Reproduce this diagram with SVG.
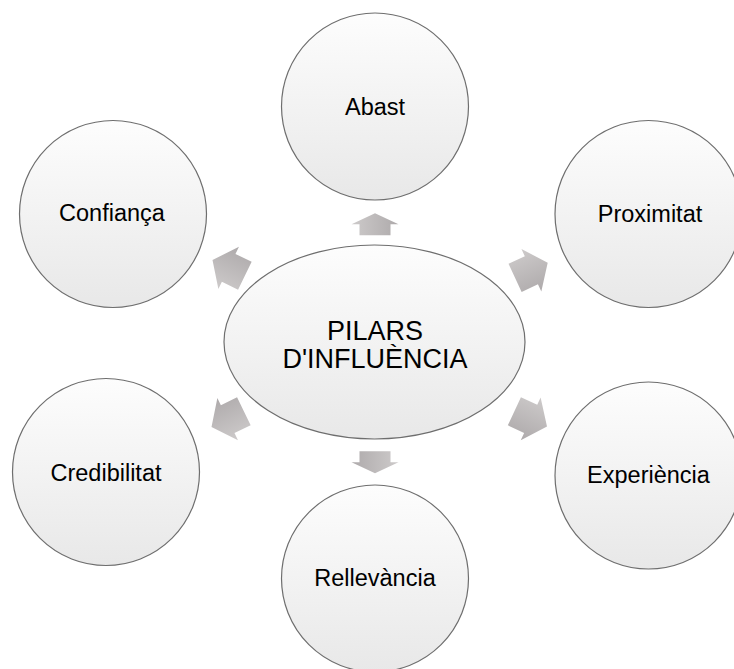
<svg xmlns="http://www.w3.org/2000/svg" width="734" height="669" viewBox="0 0 734 669">
<defs>
<linearGradient id="gNode" x1="0" y1="0" x2="0" y2="1">
<stop offset="0" stop-color="#fdfdfd"/>
<stop offset="1" stop-color="#e8e8e8"/>
</linearGradient>
<linearGradient id="gArrow" x1="0" y1="0" x2="0" y2="1">
<stop offset="0" stop-color="#cdcaca"/>
<stop offset="1" stop-color="#aeaaab"/>
</linearGradient>
<polygon id="arV" points="0,0 -11,-23.5 -11,-15.5 -22,-15.5 -22,15.5 -11,15.5 -11,23.5"/>
<polygon id="arD" points="0,0 -18,-23.5 -18,-15.5 -36,-15.5 -36,15.5 -18,15.5 -18,23.5"/>
</defs>
<style>
.node{fill:url(#gNode);stroke:#6e6e6e;stroke-width:1.2}
.lbl{font-family:"Liberation Sans",Arial,sans-serif;font-size:23.5px;fill:#000;text-anchor:middle}
.main{font-family:"Liberation Sans",Arial,sans-serif;font-size:27px;fill:#000;text-anchor:middle}
.arrow{fill:url(#gArrow);stroke:none}
</style>
<rect width="734" height="669" fill="#ffffff"/>
<g id="connectors">
<use href="#arV" class="arrow" transform="translate(375,213.3) rotate(-90)"/>
<use href="#arV" class="arrow" transform="translate(375,473.3) rotate(90)"/>
<use href="#arD" class="arrow" transform="translate(212.5,260) rotate(206)"/>
<use href="#arD" class="arrow" transform="translate(211.5,427) rotate(154)"/>
<use href="#arD" class="arrow" transform="translate(547.7,262.7) rotate(-25)"/>
<use href="#arD" class="arrow" transform="translate(547,426.5) rotate(25)"/>
</g>
<g id="abast">
<circle class="node" cx="375" cy="106.5" r="93.5"/>
<text class="lbl" x="375" y="114.5">Abast</text>
</g>
<g id="confianca">
<circle class="node" cx="113" cy="214" r="93.5"/>
<text class="lbl" x="112" y="220.5">Confiança</text>
</g>
<g id="proximitat">
<circle class="node" cx="648.5" cy="214" r="93.5"/>
<text class="lbl" x="650" y="221.5">Proximitat</text>
</g>
<g id="credibilitat">
<circle class="node" cx="106" cy="472" r="93.5"/>
<text class="lbl" x="106" y="481">Credibilitat</text>
</g>
<g id="experiencia">
<circle class="node" cx="648.5" cy="475.5" r="93.5"/>
<text class="lbl" x="648.5" y="483">Experiència</text>
</g>
<g id="rellevancia">
<circle class="node" cx="375" cy="578.5" r="93.5"/>
<text class="lbl" x="375" y="586">Rellevància</text>
</g>
<g id="pilars">
<ellipse class="node" cx="374.5" cy="342" rx="150.5" ry="97"/>
<text class="main" x="375" y="339.5">PILARS</text>
<text class="main" x="375" y="368">D'INFLUÈNCIA</text>
</g>
</svg>
